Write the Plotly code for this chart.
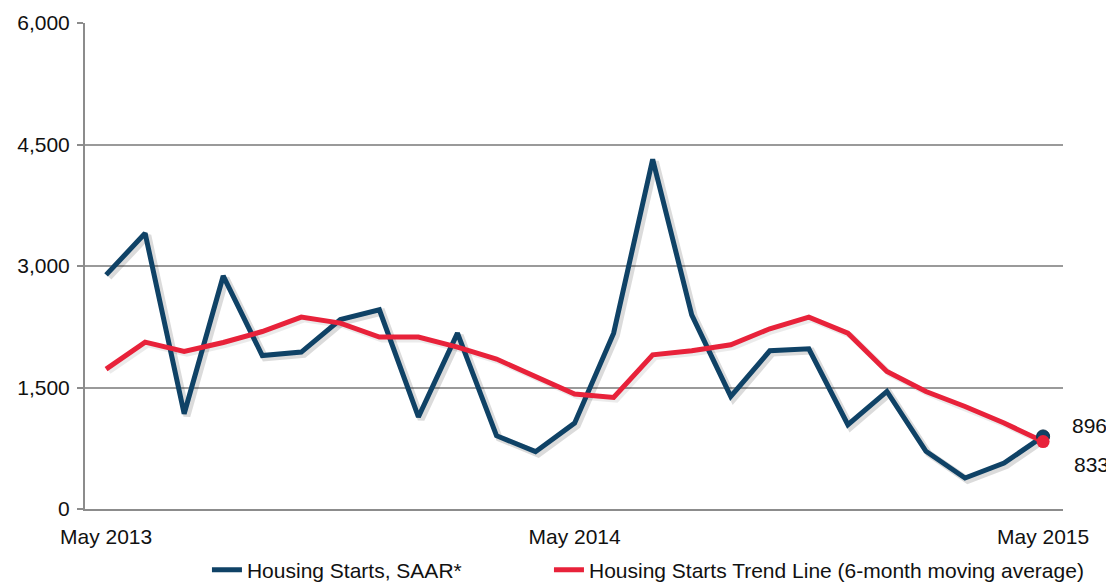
import plotly.graph_objects as go

months = list(range(25))
tick_positions = [0, 12, 24]
tick_labels = ["May 2013", "May 2014", "May 2015"]

starts_saar = [2890, 3404, 1176, 2877, 1895, 1937, 2340, 2459, 1136, 2171,
               905, 708, 1060, 2171, 4317, 2397, 1390, 1953, 1978, 1041,
               1452, 712, 383, 568, 896]
trend_6m = [1727, 2060, 1945, 2056, 2191, 2369, 2295, 2122, 2122, 1999,
            1851, 1636, 1419, 1377, 1904, 1953, 2027, 2225, 2369, 2171,
            1698, 1451, 1266, 1062, 833]

y_ticks = [0, 1500, 3000, 4500, 6000]
y_tick_text = ["0", "1,500", "3,000", "4,500", "6,000"]

BLUE = "#0f4266"
RED = "#e8223a"
FONT = "Liberation Sans, Arial, sans-serif"

fig = go.Figure()

# soft drop shadows (derived from the data)
fig.add_trace(go.Scatter(x=[m + 0.07 for m in months], y=[v - 28 for v in starts_saar],
                         mode="lines", line=dict(color="rgba(0,0,0,0.14)", width=7),
                         showlegend=False, hoverinfo="skip"))
fig.add_trace(go.Scatter(x=[m + 0.07 for m in months], y=[v - 28 for v in trend_6m],
                         mode="lines", line=dict(color="rgba(0,0,0,0.08)", width=6),
                         showlegend=False, hoverinfo="skip"))

fig.add_trace(go.Scatter(x=months, y=starts_saar, mode="lines",
                         line=dict(color=BLUE, width=5), name="Housing Starts, SAAR*",
                         legend="legend"))
fig.add_trace(go.Scatter(x=months, y=trend_6m, mode="lines",
                         line=dict(color=RED, width=5),
                         name="Housing Starts Trend Line (6-month moving average)",
                         legend="legend2"))

# end markers
fig.add_trace(go.Scatter(x=[months[-1]], y=[starts_saar[-1]], mode="markers",
                         marker=dict(color=BLUE, size=13, line=dict(color="#0a2a44", width=1)),
                         showlegend=False, hoverinfo="skip"))
fig.add_trace(go.Scatter(x=[months[-1]], y=[trend_6m[-1]], mode="markers",
                         marker=dict(color=RED, size=13),
                         showlegend=False, hoverinfo="skip"))

fig.add_annotation(x=months[-1], y=starts_saar[-1], text=f"{starts_saar[-1]:,}",
                   showarrow=False, xshift=46, yshift=11,
                   font=dict(family=FONT, size=21, color="#111"))
fig.add_annotation(x=months[-1], y=trend_6m[-1], text=f"{trend_6m[-1]:,}",
                   showarrow=False, xshift=48, yshift=-23,
                   font=dict(family=FONT, size=21, color="#111"))

legend_common = dict(orientation="h", xanchor="left", y=-0.1255, yanchor="middle",
                     font=dict(family=FONT, size=21, color="#111"),
                     itemwidth=30, bgcolor="rgba(0,0,0,0)")

# the page's default 8px body margin offsets the figure, so the figure is 8px smaller
fig.update_layout(
    width=1106, height=574,
    margin=dict(l=77, r=51, t=15, b=73, autoexpand=False),
    paper_bgcolor="white", plot_bgcolor="white",
    font=dict(family=FONT, size=21, color="#111"),
    legend=dict(x=0.1247, **legend_common),
    legend2=dict(x=0.4744, **legend_common),
    xaxis=dict(range=[-0.54, 24.51], tickvals=tick_positions, ticktext=tick_labels,
               showgrid=False, zeroline=False, showline=True, linecolor="#8c8c8c",
               linewidth=2, ticks="outside", ticklen=8, tickcolor="rgba(0,0,0,0)",
               tickfont=dict(family=FONT, size=21, color="#111")),
    yaxis=dict(range=[0, 6000], tickvals=y_ticks, ticktext=y_tick_text,
               showgrid=True, gridcolor="#9a9a9a", gridwidth=2, zeroline=False,
               showline=True, linecolor="#8c8c8c", linewidth=2,
               ticks="outside", ticklen=6, tickcolor="#8c8c8c", tickwidth=2,
               ticklabelstandoff=3,
               tickfont=dict(family=FONT, size=21, color="#111")),
)

fig.write_html("out.html")
